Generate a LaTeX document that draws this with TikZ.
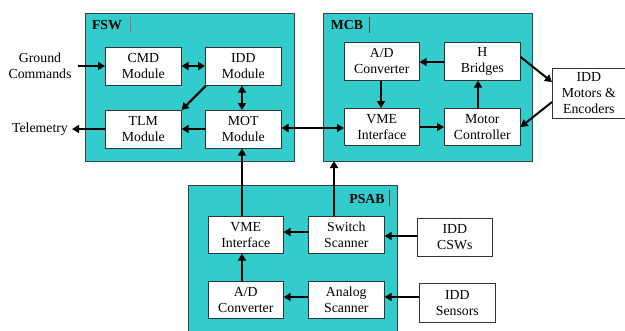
\documentclass[tikz,border=0pt]{standalone}
\usepackage{fontspec}
\setmainfont{Liberation Serif}
\usetikzlibrary{arrows.meta}
\definecolor{tealbg}{RGB}{51,204,204}
\definecolor{cursorc}{RGB}{170,110,100}
\begin{document}
\begin{tikzpicture}[x=1pt,y=-1pt,
  txt/.style={font=\fontsize{13.8}{16}\selectfont, align=center, inner sep=0pt},
  mod/.style={draw=black!80, line width=0.6pt, fill=white, txt, anchor=north west},
  grp/.style={draw=black!75, line width=0.8pt, fill=tealbg},
  lbl/.style={font=\fontsize{13.8}{16}\selectfont\bfseries, inner sep=0pt},
  tip/.style={},
  arr/.style={line width=2pt, -{Triangle[length=7pt,width=8pt]}},
  darr/.style={line width=2pt, {Triangle[length=7pt,width=8pt]}-{Triangle[length=7pt,width=8pt]}}
]
\useasboundingbox (0,0) rectangle (625,330);
% group boxes
\path[grp] (85,13) rectangle (294,161);
\path[grp] (323,13) rectangle (532,161);
\path[grp] (188,185) rectangle (397,340);
\node[lbl] (fswl) at (107,25) {FSW};
\node[lbl] (mcbl) at (347,25) {MCB};
\node[lbl] (psabl) at (367,199) {PSAB};
\draw[cursorc, line width=0.5pt] (130,17) -- (130,33);
\draw[cursorc!60!black, line width=0.5pt] (369,17) -- (369,33);
\draw[cursorc!60!black, line width=0.5pt] (389,190) -- (389,206);
% FSW modules
\node[mod, minimum width=76pt, minimum height=38pt] (cmd) at (105,47) {CMD\\Module};
\node[mod, minimum width=76pt, minimum height=38pt] (idd) at (205,47) {IDD\\Module};
\node[mod, minimum width=76pt, minimum height=38pt] (tlm) at (105,110) {TLM\\Module};
\node[mod, minimum width=76pt, minimum height=38pt] (mot) at (205,110) {MOT\\Module};
% MCB modules
\node[mod, minimum width=75pt, minimum height=38pt] (adm) at (344,42) {A/D\\Converter};
\node[mod, minimum width=76pt, minimum height=38pt] (hb) at (444,42) {H\\Bridges};
\node[mod, minimum width=75pt, minimum height=37pt] (vmem) at (344,108) {VME\\Interface};
\node[mod, minimum width=76pt, minimum height=37pt] (mc) at (444,108) {Motor\\Controller};
\node[mod, minimum width=73pt, minimum height=50pt] (motors) at (552,68) {IDD\\Motors \&\\Encoders};
% PSAB modules
\node[mod, minimum width=75pt, minimum height=37pt] (vmep) at (208,216) {VME\\Interface};
\node[mod, minimum width=76pt, minimum height=37pt] (sw) at (308,216) {Switch\\Scanner};
\node[mod, minimum width=75pt, minimum height=37pt] (adp) at (208,281) {A/D\\Converter};
\node[mod, minimum width=76pt, minimum height=37pt] (an) at (308,281) {Analog\\Scanner};
\node[mod, minimum width=75pt, minimum height=38pt] (csw) at (417,218) {IDD\\CSWs};
\node[mod, minimum width=76pt, minimum height=39pt] (sens) at (419,283) {IDD\\Sensors};
% external texts
\node[txt] (gc) at (40,66) {Ground\\Commands};
\node[txt] (tel) at (40,129) {Telemetry};
\coordinate (gcend) at (78,66);
\coordinate (telend) at (72,129);
% FSW arrows
\draw[arr] (gcend) -- (cmd.west |- gcend);
\draw[darr] (cmd.east |- 0,66) -- (idd.west |- 0,66);
\draw[darr] (idd.south -| 242,0) -- (mot.north -| 242,0);
\draw[arr] ([xshift=1pt]idd.south west) -- (tlm.north east);
\draw[arr] (mot.west |- 0,129) -- (tlm.east |- 0,129);
\draw[arr] (tlm.west |- 0,129) -- (telend);
\draw[darr] (mot.east |- 0,128) -- (vmem.west |- 0,128);
% MCB arrows
\draw[arr] (hb.west |- 0,62) -- (adm.east |- 0,62);
\draw[arr] (adm.south -| 381,0) -- (vmem.north -| 381,0);
\draw[arr] (vmem.east |- 0,127) -- (mc.west |- 0,127);
\draw[arr] (mc.north -| 478,0) -- (hb.south -| 478,0);
\draw[arr] (hb.east |- 0,57) -- (motors.west |- 0,82);
\draw[arr] (motors.west |- 0,102) -- (mc.east |- 0,127);
% PSAB arrows
\draw[arr] (vmep.north -| 242,0) -- (mot.south -| 242,0);
\draw[arr] (sw.north -| 334,0) -- (334,161);
\draw[arr] (sw.west |- 0,232) -- (vmep.east |- 0,232);
\draw[arr] (adp.north -| 242,0) -- (vmep.south -| 242,0);
\draw[arr] (an.west |- 0,297) -- (adp.east |- 0,297);
\draw[arr] (csw.west |- 0,236) -- (sw.east |- 0,236);
\draw[arr] (sens.west |- 0,297) -- (an.east |- 0,297);
\end{tikzpicture}
\end{document}
